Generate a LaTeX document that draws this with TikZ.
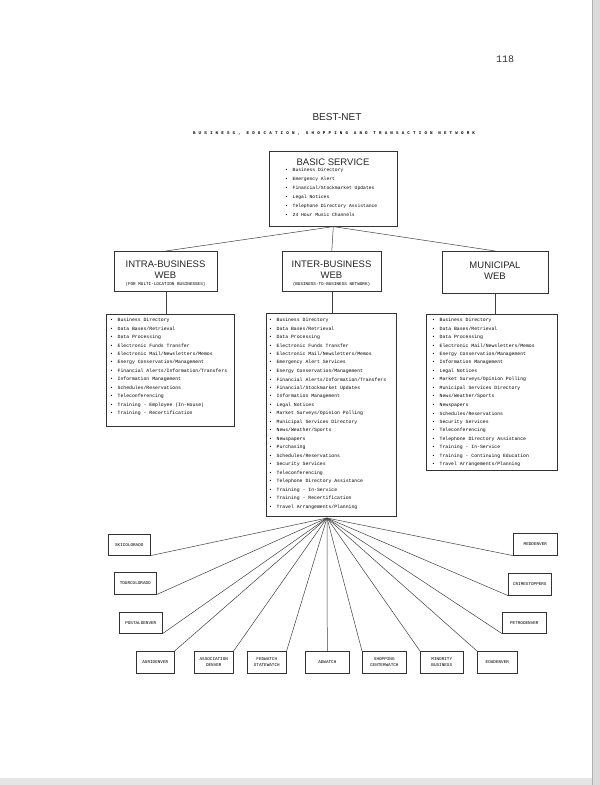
\documentclass[tikz,border=0pt]{standalone}
\usepackage{fontspec}
\setmainfont{Liberation Sans}
\setmonofont{Liberation Mono}
\usepackage{graphicx}
\tikzset{
  rbox/.style={draw=black!80, line width=0.6pt, inner sep=0pt, anchor=north west},
  link/.style={draw=black!75, line width=0.5pt},
  headtxt/.style={font=\fontsize{9.5}{10}\selectfont, text=black!85, inner sep=0pt},
  subtxt/.style={font=\fontsize{4.3}{5}\selectfont\ttfamily, text=black, inner sep=0pt},
  itemtxt/.style={font=\fontsize{4.8}{5}\selectfont\ttfamily, text=black, inner sep=0pt, anchor=west},
  smalltxt/.style={font=\fontsize{4.3}{6.5}\selectfont\ttfamily, text=black, align=center, inner sep=0pt}
}
\newcommand{\bul}{\makebox[7.5pt][l]{\textbullet}}
\begin{document}
\begin{tikzpicture}[x=1pt,y=-1pt]
\useasboundingbox (0,0) rectangle (600,785);
\fill[white] (0,0) rectangle (600,785);
% scan edges
\fill[black!14] (592,0) rectangle (600,785);
\fill[black!10] (0,778) rectangle (592,785);
\draw[black!30, line width=0.8pt] (592,0) -- (592,785);

% header
\node[font=\fontsize{10}{10}\selectfont\ttfamily, text=black!80, inner sep=0pt] (pagenum) at (505,59) {118};
\node[font=\fontsize{10}{10}\selectfont, text=black!85, inner sep=0pt] (title) at (337,117) {BEST-NET};
\node[inner sep=0pt, text=black] (subtitle) at (334,133)
  {\resizebox{282pt}{!}{\fontsize{4}{4}\selectfont\ttfamily\bfseries\addfontfeature{LetterSpace=75}BUSINESS, EDUCATION, SHOPPING AND TRANSACTION NETWORK}};

% basic service
\node[rbox, minimum width=128pt, minimum height=75pt] (basic) at (269,151) {};
\node[headtxt] (basic-t) at (333,162) {BASIC SERVICE};
\foreach \t [count=\i] in {Business Directory, Emergency Alert, Financial/Stockmarket Updates, Legal Notices, Telephone Directory Assistance, 24 Hour Music Channels}
  \node[itemtxt, font=\fontsize{4.7}{5}\selectfont\ttfamily] (basic-\i) at (285, 170+9*\i-9) {\bul\t};

% web boxes
\node[rbox, minimum width=103pt, minimum height=40pt] (intra) at (114,251) {};
\node[headtxt] (intra-t1) at (165.5,264) {INTRA-BUSINESS};
\node[headtxt] (intra-t2) at (165.5,275) {WEB};
\node[subtxt] (intra-t3) at (165.5,284.5) {(FOR MULTI-LOCATION BUSINESSES)};

\node[rbox, minimum width=99pt, minimum height=40pt] (inter) at (282,251) {};
\node[headtxt] (inter-t1) at (331.5,264) {INTER-BUSINESS};
\node[headtxt] (inter-t2) at (331.5,275) {WEB};
\node[subtxt] (inter-t3) at (331.5,284.5) {(BUSINESS-TO-BUSINESS NETWORK)};

\node[rbox, minimum width=106pt, minimum height=42pt] (muni) at (442,251) {};
\node[headtxt] (muni-t1) at (495,265) {MUNICIPAL};
\node[headtxt] (muni-t2) at (495,276) {WEB};

\draw[link] (basic.south) -- (intra.north);
\draw[link] (basic.south) -- (inter.north);
\draw[link] (basic.south) -- (muni.north);

% list boxes
\node[rbox, minimum width=128pt, minimum height=112pt] (intralist) at (106,314) {};
\node[rbox, minimum width=130pt, minimum height=203pt] (interlist) at (266,313) {};
\node[rbox, minimum width=131pt, minimum height=156pt] (munilist) at (426,314) {};
\draw[link] (intra.south) -- (intra.south |- intralist.north);
\draw[link] (inter.south) -- (inter.south |- interlist.north);
\draw[link] (muni.south) -- (muni.south |- munilist.north);

\foreach \t [count=\i] in {Business Directory, Data Bases/Retrieval, Data Processing, Electronic Funds Transfer, Electronic Mail/Newsletters/Memos, Energy Conservation/Management, Financial Alerts/Information/Transfers, Information Management, Schedules/Reservations, Teleconferencing, Training - Employee (In-House), Training - Recertification}
  \node[itemtxt] (intra-\i) at (110, 320+8.5*\i-8.5) {\bul\t};

\foreach \t [count=\i] in {Business Directory, Data Bases/Retrieval, Data Processing, Electronic Funds Transfer, Electronic Mail/Newsletters/Memos, Emergency Alert Services, Energy Conservation/Management, Financial Alerts/Information/Transfers, Financial/Stockmarket Updates, Information Management, Legal Notices, Market Surveys/Opinion Polling, Municipal Services Directory, News/Weather/Sports, Newspapers, Purchasing, Schedules/Reservations, Security Services, Teleconferencing, Telephone Directory Assistance, Training - In-Service, Training - Recertification, Travel Arrangements/Planning}
  \node[itemtxt] (inter-\i) at (269, 320+8.5*\i-8.5) {\bul\t};

\foreach \t [count=\i] in {Business Directory, Data Bases/Retrieval, Data Processing, Electronic Mail/Newsletters/Memos, Energy Conservation/Management, Information Management, Legal Notices, Market Surveys/Opinion Polling, Municipal Services Directory, News/Weather/Sports, Newspapers, Schedules/Reservations, Security Services, Teleconferencing, Telephone Directory Assistance, Training - In-Service, Training - Continuing Education, Travel Arrangements/Planning}
  \node[itemtxt] (muni-\i) at (432, 320+8.5*\i-8.5) {\bul\t};

% service boxes
\coordinate (fan) at (327,518);
\foreach \n/\x/\y/\w/\h/\t/\a in {
  ski/108/534/42/21/{SKICOLORADO}/south east,
  tour/114/572/42/22/{TOURCOLORADO}/south east,
  postal/119/612/43/21/{POSTALDENVER}/south east,
  agri/136/651/38/22/{AGRIDENVER}/north east,
  assoc/194/651/39/22/{ASSOCIATION\\DENVER}/north east,
  fed/247/651/39/22/{FEDWATCH\\STATEWATCH}/north east,
  ad/305/651/44/22/{ADWATCH}/north,
  shop/362/651/44/22/{SHOPPING\\CENTERWATCH}/north west,
  minor/420/651/43/22/{MINORITY\\BUSINESS}/north west,
  edu/477/651/40/22/{EDUDENVER}/north west,
  med/513/533/44/22/{MEDDENVER}/south west,
  crime/508/573/43/22/{CRIMESTOPPERS}/south west,
  petro/502/612/44/21/{PETRODENVER}/south west}
{
  \node[rbox, minimum width=\w*1pt, minimum height=\h*1pt] (\n) at (\x,\y) {};
  \node[smalltxt] (\n-t) at (\n.center) {\t};
  \draw[link] (fan) -- (\n.\a);
}
\end{tikzpicture}
\end{document}
